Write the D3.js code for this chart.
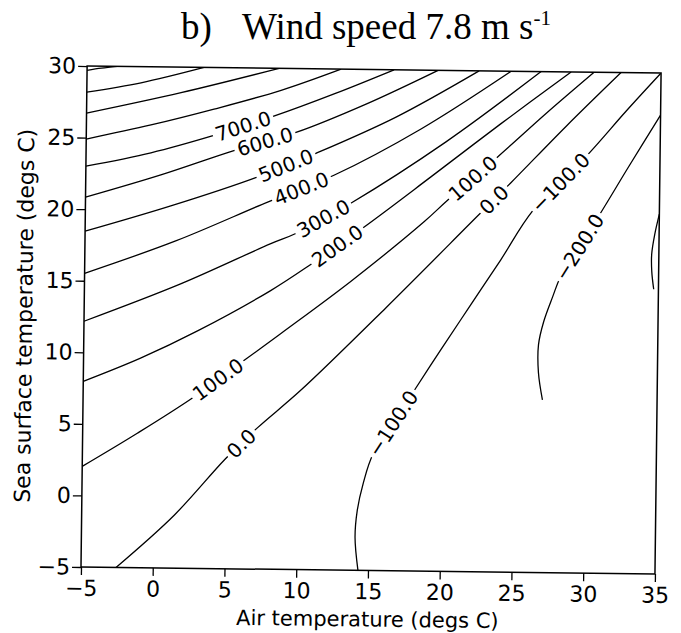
<!DOCTYPE html>
<html>
<head>
<meta charset="utf-8">
<script src="https://cdn.jsdelivr.net/npm/d3@7"></script>
<style>
  body { margin: 0; background: #fff; }
  text { font-family: "DejaVu Sans", sans-serif; fill: #000; }
</style>
</head>
<body>
<div id="chart"></div>
<script>
// axis ticks
const xTicks = [-5, 0, 5, 10, 15, 20, 25, 30, 35];
const yTicks = [-5, 0, 5, 10, 15, 20, 25, 30];

// contour levels (W m-2)
const levels = [1100, 1000, 900, 800, 700, 600, 500, 400, 300, 200, 100, 0, -100, -200, -300];

// contour traces: [air temperature, sea surface temperature]
const line1100 = [[-5, 29.7], [-4, 29.86], [-2.9, 30]];
const line1000 = [[-5, 28.18], [-1.23, 28.87], [3.15, 30]];
const line900 = [[-5, 26.71], [1.57, 28.22], [8.38, 30]];
const line800 = [[-5, 24.9], [-0.5, 25.94], [3.88, 27.1], [8.54, 28.47], [12.7, 30]];
const line700 = [[-5, 23.0], [-0.48, 23.99], [3.83, 25.24], [8.0, 26.64], [12.37, 28.32], [16.39, 30]];
const line600 = [[-5, 20.84], [0.23, 22.46], [5.3, 24.22], [9.61, 25.54], [14.47, 27.58], [19.46, 30]];
const line500 = [[-5, 18.46], [0.95, 20.3], [6.85, 22.35], [11.02, 24.1], [16.57, 26.7], [22.32, 30]];
const line400 = [[-5, 15.52], [1.32, 17.86], [7.78, 20.69], [12.29, 22.58], [18.32, 25.89], [24.55, 30]];
const line300 = [[-5, 12.17], [1.7, 14.86], [7.95, 17.75], [9.68, 18.48], [13.49, 20.64], [20.07, 25.01], [26.64, 30]];
const line200 = [[-5, 7.97], [-1.03, 9.64], [2.92, 11.59], [7.98, 14.47], [10.75, 16.33], [14.42, 18.98],
                 [19.05, 22.55], [23.89, 26.33], [28.73, 30]];
const line100 = [[-5, 2.03], [-1.19, 4.39], [2.62, 6.9], [6.15, 9.54], [8.71, 11.47], [13.55, 15.18],
                 [18.59, 19.39], [20.25, 20.95], [23.7, 24.02], [27.02, 27.08], [30.33, 30]];
const line0 = [[-2.56, -5], [1.45, -1.3], [4.96, 2.67], [7.17, 4.87], [10.14, 7.51], [16.0, 13.34],
               [22.28, 19.8], [24.63, 22.21], [28.42, 26.19], [32.21, 30]];
const lineM100 = [[14.3, -5], [14.07, -2.71], [14.2, -0.82], [14.59, 1.07], [15.27, 3.18], [17.95, 7.42],
                  [19.87, 10.46], [21.93, 13.64], [23.99, 16.82], [26.18, 20.28], [29.98, 24.26],
                  [32.59, 27.3], [35, 30]];
const lineM200 = [[27.01, 7.07], [26.71, 8.96], [26.69, 10.92], [27.03, 12.53], [27.64, 14.29], [28.18, 15.7],
                  [30.72, 19.86], [32.84, 23.46], [35, 27.06]];
const lineM300 = [[35, 20.14], [34.7, 18.74], [34.5, 17.33], [34.52, 16.14], [34.67, 14.89]];

// where the labels sit: [level, index of the trace segment]
const labelSpots = [[700, 2], [600, 2], [500, 2], [400, 2], [300, 3], [200, 4],
                    [100, 2], [100, 7], [0, 2], [0, 6], [-100, 4], [-100, 9], [-200, 5]];

const traces = new Map([
    [1100, line1100], [1000, line1000], [900, line900], [800, line800], [700, line700],
    [600, line600], [500, line500], [400, line400], [300, line300], [200, line200],
    [100, line100], [0, line0], [-100, lineM100], [-200, lineM200], [-300, lineM300]
]);

const width = 681, height = 633;
const plot = {left: 81, right: 655, top: 66, bottom: 567};

const x = d3.scaleLinear().domain([-5, 35]).range([plot.left, plot.right]);
const y = d3.scaleLinear().domain([-5, 30]).range([plot.bottom, plot.top]);

const svg = d3.select("#chart").append("svg")
    .attr("width", width)
    .attr("height", height);

// Title
svg.append("text")
    .attr("x", 181).attr("y", 39)
    .style("font-family", "'Liberation Serif', serif")
    .attr("font-size", 37)
    .text("b)");

let title = svg.append("text")
    .attr("x", 242).attr("y", 39)
    .style("font-family", "'Liberation Serif', serif")
    .attr("font-size", 37)
    .text("Wind speed 7.8 m s");
title.append("tspan")
    .attr("dy", -14)
    .attr("font-size", 21)
    .text("-1");

// the scanned figure is tilted a little
let g = svg.append("g")
    .attr("transform", `rotate(0.7,${plot.left},${plot.bottom})`);

g.append("clipPath").attr("id", "clip")
    .append("rect")
    .attr("x", plot.left).attr("y", plot.top)
    .attr("width", plot.right - plot.left)
    .attr("height", plot.bottom - plot.top);

let line = d3.line()
    .x(d => x(d[0]))
    .y(d => y(d[1]))
    .curve(d3.curveCatmullRom.alpha(0.5));

let contourG = g.append("g").attr("clip-path", "url(#clip)");

levels.forEach(lv => {
    contourG.append("path")
        .attr("d", line(traces.get(lv)))
        .attr("fill", "none")
        .attr("stroke", "#000")
        .attr("stroke-width", 1.3);
});

// Contour labels
let fmt = v => (v < 0 ? "\u2212" : "") + Math.abs(v).toFixed(1);

labelSpots.forEach(([lv, i]) => {
    let pts = traces.get(lv);
    let x0 = x(pts[i][0]), y0 = y(pts[i][1]);
    let x1 = x(pts[i + 1][0]), y1 = y(pts[i + 1][1]);
    let ang = Math.atan2(y1 - y0, x1 - x0) * 180 / Math.PI;

    let lg = g.append("g")
        .attr("transform", `translate(${(x0 + x1) / 2},${(y0 + y1) / 2}) rotate(${ang})`);
    let bg = lg.append("rect").attr("fill", "#fff");
    let txt = lg.append("text")
        .attr("text-anchor", "middle")
        .attr("dy", "0.36em")
        .attr("font-size", 20)
        .text(fmt(lv));
    let len = txt.node().getComputedTextLength();
    bg.attr("x", -len / 2 - 3).attr("y", -7)
        .attr("width", len + 6).attr("height", 14);
});

// Frame
g.append("rect")
    .attr("x", plot.left).attr("y", plot.top)
    .attr("width", plot.right - plot.left)
    .attr("height", plot.bottom - plot.top)
    .attr("fill", "none")
    .attr("stroke", "#000")
    .attr("stroke-width", 1.5);

// Axes
let xAxis = g.append("g")
    .attr("transform", `translate(0,${plot.bottom})`)
    .call(d3.axisBottom(x).tickValues(xTicks).tickSize(8).tickPadding(5));

let yAxis = g.append("g")
    .attr("transform", `translate(${plot.left},0)`)
    .call(d3.axisLeft(y).tickValues(yTicks).tickSize(9).tickPadding(2));

[xAxis, yAxis].forEach(a => {
    a.select(".domain").remove();
    a.selectAll("line").attr("stroke", "#000").attr("stroke-width", 1.3);
    a.selectAll("text").attr("font-size", 22);
});

// Axis titles
g.append("text")
    .attr("x", (plot.left + plot.right) / 2)
    .attr("y", 623)
    .attr("text-anchor", "middle")
    .attr("font-size", 21)
    .text("Air temperature (degs C)");

g.append("text")
    .attr("transform", `translate(29,${(plot.top + plot.bottom) / 2}) rotate(-90)`)
    .attr("text-anchor", "middle")
    .attr("font-size", 22)
    .text("Sea surface temperature (degs C)");
</script>
</body>
</html>
